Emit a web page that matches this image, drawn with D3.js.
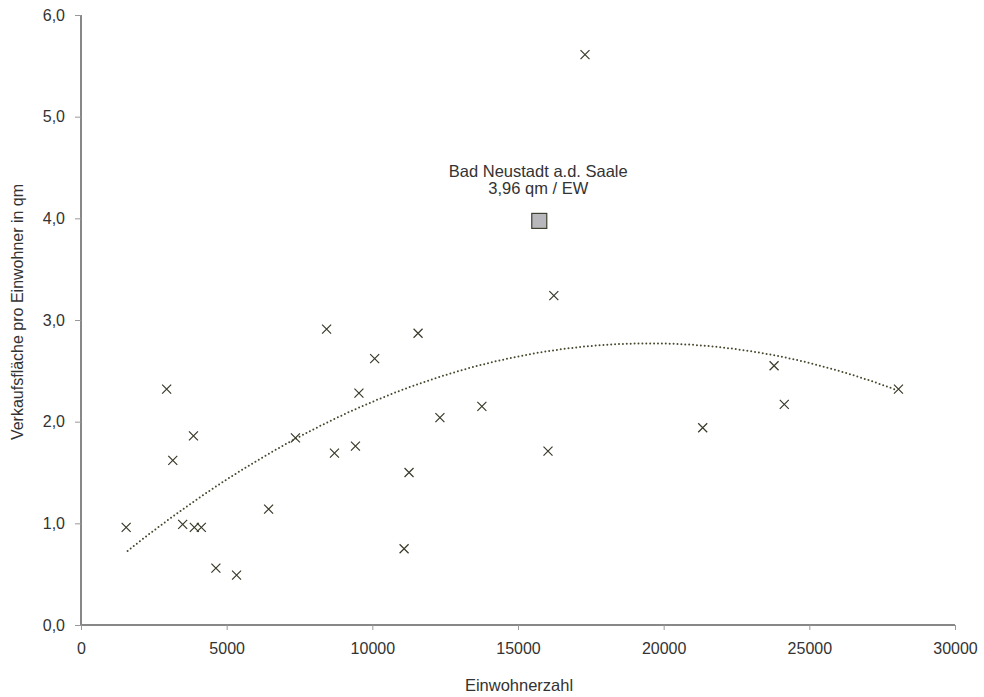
<!DOCTYPE html>
<html>
<head>
<meta charset="utf-8">
<script src="https://cdn.jsdelivr.net/npm/d3@7"></script>
<style>
  body { margin: 0; background: #fff; }
  text { font-family: "Liberation Sans", Arial, sans-serif; fill: #333; }
</style>
</head>
<body>
<div id="container"></div>
<script>
/* CONSTANTS AND GLOBALS */
const width = 984,
  height = 697,
  margin = { top: 15, bottom: 72, left: 81, right: 29 };

// Einwohnerzahl / Verkaufsfläche pro Einwohner (qm)
const einwohner = [1550, 2940, 3150, 3860, 3490, 3890, 4130, 4630, 5340, 6440,
  7360, 8430, 8700, 9420, 9540, 10080, 11570, 11090, 11260, 12320,
  13760, 16030, 16230, 17300, 21340, 23790, 24140, 28060];
const flaeche = [0.96, 2.32, 1.62, 1.86, 0.99, 0.96, 0.96, 0.56, 0.49, 1.14,
  1.84, 2.91, 1.69, 1.76, 2.28, 2.62, 2.87, 0.75, 1.50, 2.04,
  2.15, 1.71, 3.24, 5.61, 1.94, 2.55, 2.17, 2.32];

// hervorgehobene Stadt
const highlightName = "Bad Neustadt a.d. Saale";
const highlightLabel = "3,96 qm / EW";
const highlightEW = 15730;
const highlightValue = 3.96;

// Trendlinie (Polynom 2. Grades), Koeffizienten
const trendStart = 1600, trendEnd = 28000;
const trendPeakX = 19500, trendPeakY = 2.77, trendCurv = 6.37e-9;

const xTicks = [0, 5000, 10000, 15000, 20000, 25000, 30000];
const yTicks = [0, 1, 2, 3, 4, 5, 6];

const data = einwohner.map((e, i) => ({ ew: e, qm: flaeche[i] }));

// SCALES
const xScale = d3.scaleLinear()
  .domain([0, 30000])
  .range([margin.left, width - margin.right]);

const yScale = d3.scaleLinear()
  .domain([0, 6])
  .range([height - margin.bottom, margin.top]);

// CREATE SVG ELEMENT
const svg = d3.select("#container")
  .append("svg")
  .attr("width", width)
  .attr("height", height);

// AXES
const fmt = d3.format(".1f");
const yAxis = d3.axisLeft(yScale)
  .tickValues(yTicks)
  .tickSize(6)
  .tickPadding(10)
  .tickFormat(d => fmt(d).replace(".", ","));

const xAxis = d3.axisBottom(xScale)
  .tickValues(xTicks)
  .tickSize(5)
  .tickPadding(13)
  .tickFormat(d => d);

const gx = svg.append("g")
  .attr("transform", `translate(0, ${height - margin.bottom})`)
  .call(xAxis);

const gy = svg.append("g")
  .attr("transform", `translate(${margin.left}, 0)`)
  .call(yAxis);

[gx, gy].forEach(g => {
  g.select(".domain").attr("stroke", "#888").attr("stroke-width", 2);
  g.selectAll(".tick line").attr("stroke", "#999");
  g.selectAll(".tick text")
    .attr("fill", "#333")
    .style("font-family", "Liberation Sans, Arial, sans-serif")
    .style("font-size", "16px");
});
gx.select(".domain").attr("d", `M${margin.left},0H${width - margin.right}`);
gy.select(".domain").attr("d", `M0,${margin.top}V${height - margin.bottom}`);

// AXIS TITLES
svg.append("text")
  .attr("x", 519)
  .attr("y", 691)
  .attr("text-anchor", "middle")
  .style("font-size", "16.5px")
  .text("Einwohnerzahl");

svg.append("text")
  .attr("transform", `translate(22.5, 312) rotate(-90)`)
  .attr("text-anchor", "middle")
  .style("font-size", "16px")
  .text("Verkaufsfläche pro Einwohner in qm");

// TRENDLINE
const trendX = d3.range(trendStart, trendEnd + 1, 200);
const trendData = trendX.map(x => ({ ew: x, qm: trendPeakY - trendCurv * (x - trendPeakX) ** 2 }));

const drawLine = d3.line()
  .x(d => xScale(d.ew))
  .y(d => yScale(d.qm));

svg.append("path")
  .datum(trendData)
  .attr("fill", "none")
  .attr("stroke", "#48482f")
  .attr("stroke-width", 2)
  .attr("stroke-linecap", "round")
  .attr("stroke-dasharray", "0 3.9")
  .attr("d", drawLine);

// POINTS (x markers)
const s = 4.5;
svg.selectAll(".pt")
  .data(data)
  .join("path")
  .attr("class", "pt")
  .attr("fill", "none")
  .attr("stroke", "#3a3a2a")
  .attr("stroke-width", 1.2)
  .attr("d", d => {
    const cx = xScale(d.ew), cy = yScale(d.qm);
    return `M${cx - s},${cy - s}L${cx + s},${cy + s}M${cx - s},${cy + s}L${cx + s},${cy - s}`;
  });

// HIGHLIGHT
const hx = xScale(highlightEW), hy = yScale(highlightValue);
svg.append("rect")
  .attr("x", hx - 7.5)
  .attr("y", hy - 9)
  .attr("width", 15)
  .attr("height", 15)
  .attr("fill", "#b8b8bc")
  .attr("stroke", "#40402f")
  .attr("stroke-width", 1.2);

svg.append("text")
  .attr("x", hx - 1)
  .attr("y", hy - 45)
  .attr("text-anchor", "middle")
  .style("font-size", "16.5px")
  .text(highlightName);

svg.append("text")
  .attr("x", hx - 1)
  .attr("y", hy - 28)
  .attr("text-anchor", "middle")
  .style("font-size", "16.5px")
  .text(highlightLabel);
</script>
</body>
</html>
